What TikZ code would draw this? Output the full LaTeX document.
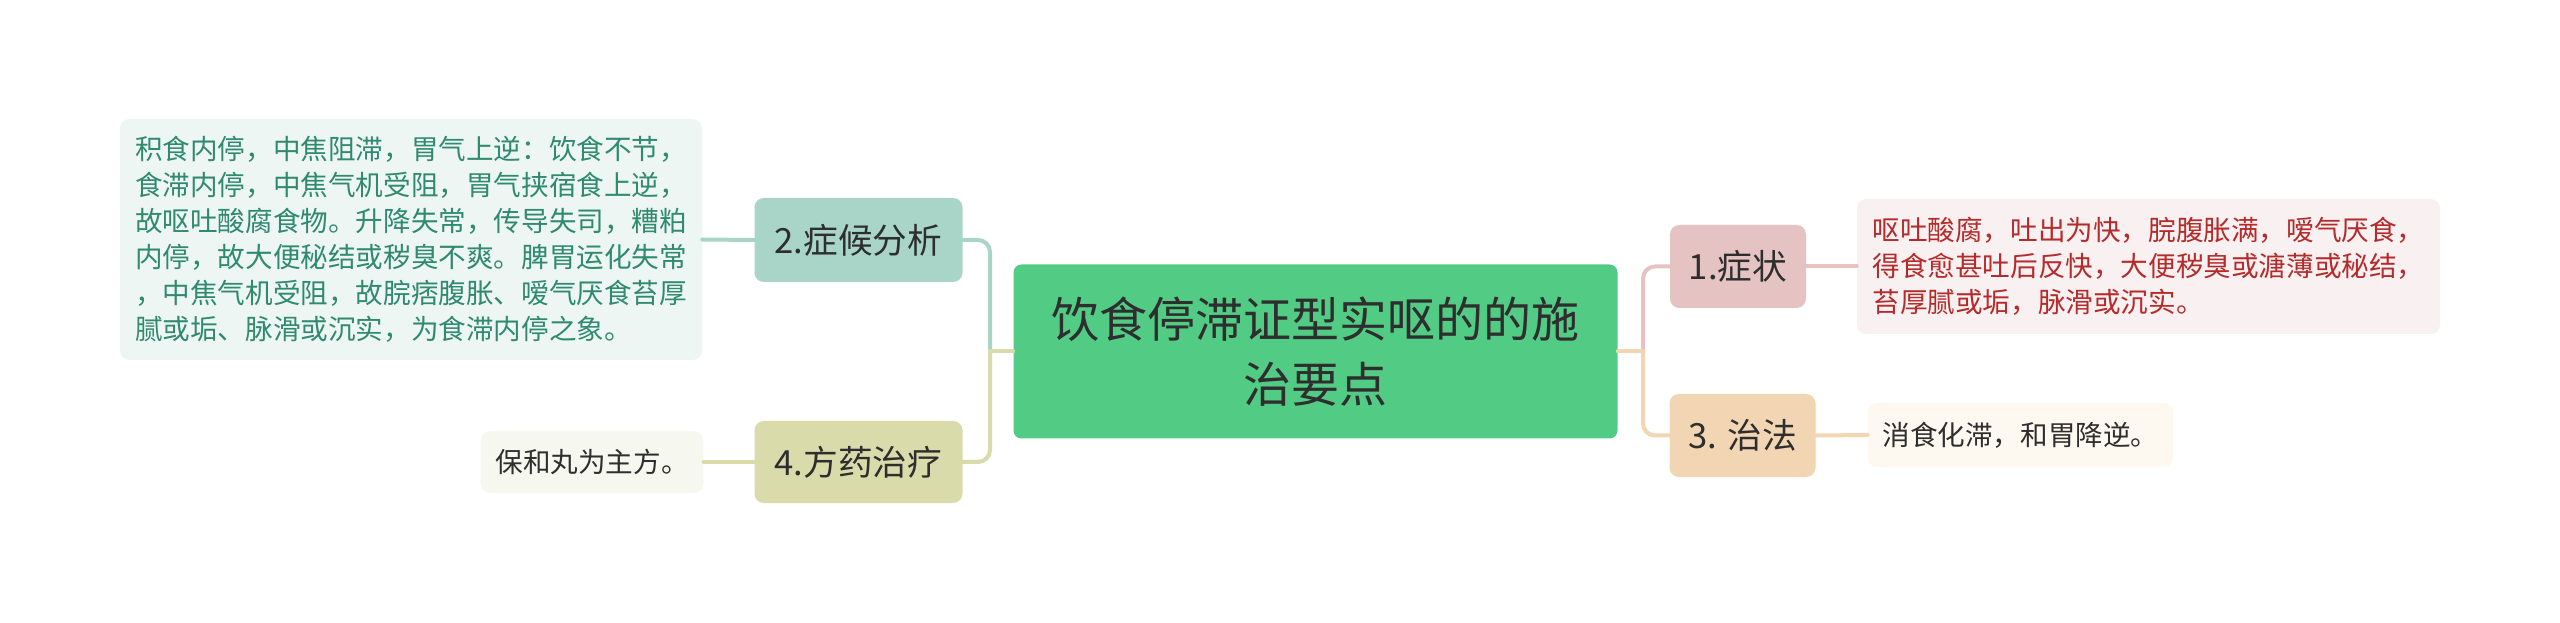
\documentclass[tikz,border=0pt]{standalone}
\usepackage{fontspec}
\setmainfont{Noto Sans CJK SC}
\definecolor{cfill}{HTML}{52CC84}
\definecolor{tealf}{HTML}{A8D5C8}
\definecolor{olivef}{HTML}{D9DBAA}
\definecolor{pinkf}{HTML}{E6C3C3}
\definecolor{peachf}{HTML}{F2D5B2}
\definecolor{tealnote}{HTML}{EEF6F4}
\definecolor{olivenote}{HTML}{F6F7EE}
\definecolor{pinknote}{HTML}{F9F1F1}
\definecolor{peachnote}{HTML}{FDF8F0}
\definecolor{tealtext}{HTML}{2F8A6E}
\definecolor{redtext}{HTML}{B52B2B}
\definecolor{darktext}{HTML}{2E2E2E}
\tikzset{
  centerbox/.style={draw=none, fill=cfill, rounded corners=6pt, text=darktext, align=center,
    font=\fontsize{36pt}{48.75pt}\selectfont, inner sep=0pt},
  childbox/.style={draw=none, rounded corners=7pt, text=darktext, align=center,
    font=\fontsize{26pt}{30pt}\selectfont, inner sep=0pt},
  notebox/.style={draw=none, rounded corners=7pt, align=left, inner xsep=11pt, inner ysep=0pt,
    font=\fontsize{20.7pt}{27pt}\selectfont},
  conn/.style={line width=3pt, line cap=round},
}
\begin{document}
\begin{tikzpicture}[x=0.75pt, y=-0.75pt]
\path[use as bounding box, fill=white] (0,0) rectangle (2560,623);
% nodes
\node[centerbox, minimum width=453pt, minimum height=130.5pt] (c) at (1315.5,351.5)
  {饮食停滞证型实呕的的施\\治要点};
\node[childbox, fill=tealf, minimum width=156pt, minimum height=63pt] (n2) at (858.5,240) {2.症候分析};
\node[childbox, fill=olivef, minimum width=156pt, minimum height=61.5pt] (n4) at (858.5,462) {4.方药治疗};
\node[childbox, fill=pinkf, minimum width=102pt, minimum height=62.25pt] (n1) at (1738,266.5) {1.症状};
\node[childbox, fill=peachf, minimum width=109.5pt, minimum height=62.25pt] (n3) at (1742.5,435.5) {3. 治法};
\node[notebox, fill=tealnote, text=tealtext, minimum width=436.5pt, minimum height=180.75pt] (nl) at (411,239.5)
  {积食内停，中焦阻滞，胃气上逆：饮食不节，\\食滞内停，中焦气机受阻，胃气挟宿食上逆，\\故呕吐酸腐食物。升降失常，传导失司，糟粕\\内停，故大便秘结或秽臭不爽。脾胃运化失常\\，中焦气机受阻，故脘痞腹胀、嗳气厌食苔厚\\腻或垢、脉滑或沉实，为食滞内停之象。};
\node[notebox, fill=olivenote, text=darktext, minimum width=166.5pt, minimum height=46.5pt] (nb) at (592,462)
  {保和丸为主方。};
\node[notebox, fill=pinknote, text=redtext, minimum width=437.25pt, minimum height=101.25pt] (nr) at (2148.5,266.5)
  {呕吐酸腐，吐出为快，脘腹胀满，嗳气厌食，\\得食愈甚吐后反快，大便秽臭或溏薄或秘结，\\苔厚腻或垢，脉滑或沉实。};
\node[notebox, fill=peachnote, text=darktext, minimum width=227.25pt, minimum height=48pt] (nx) at (2020.5,435)
  {消食化滞，和胃降逆。};
% junctions
\coordinate (jl) at (990,351.5);
\coordinate (jr) at (1643,351.5);
% connectors left
\draw[conn, tealf, rounded corners=9pt] (jl) |- (n2.east);
\draw[conn, olivef, rounded corners=9pt] (jl) |- (n4.east);
\draw[conn, olivef] (c.west) -- (jl);
% connectors right
\draw[conn, pinkf, rounded corners=9pt] (jr) |- (n1.west);
\draw[conn, peachf, rounded corners=9pt] (jr) |- (n3.west);
\draw[conn, peachf] (c.east) -- (jr);
% child to notes
\draw[conn, tealf] (n2.west) -- (nl.east);
\draw[conn, olivef] (n4.west) -- (nb.east);
\draw[conn, pinkf] (n1.east) -- (nr.west);
\draw[conn, peachf] (n3.east) -- (nx.west);
\end{tikzpicture}
\end{document}
